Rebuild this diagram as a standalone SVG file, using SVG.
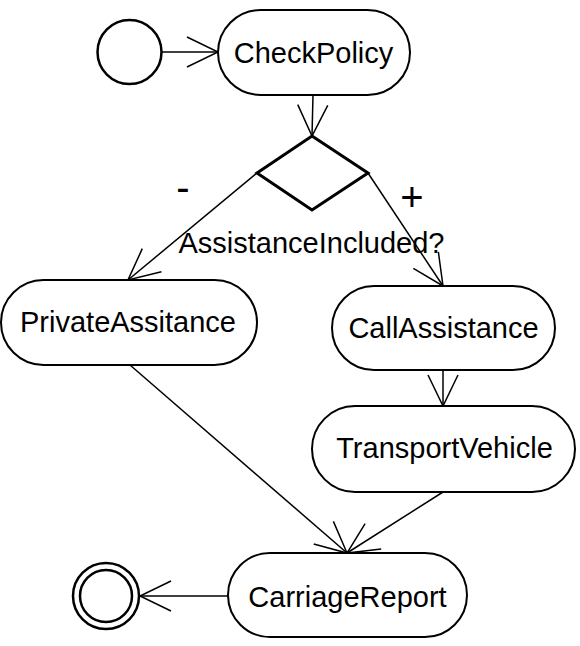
<svg xmlns="http://www.w3.org/2000/svg" width="580" height="646" viewBox="0 0 580 646">
<style>
.node{fill:#fff;stroke:#000;stroke-width:2}
.lbl{font-family:"Liberation Sans",Arial,sans-serif;font-size:29px;fill:#000;text-anchor:middle}
.sign{font-family:"Liberation Sans",Arial,sans-serif;font-size:40px;fill:#000;text-anchor:middle}
.edge{fill:none;stroke:#000;stroke-width:1.5;marker-end:url(#arr)}
.term{fill:#fff;stroke:#000;stroke-width:2.5}
</style>
<defs>
<marker id="arr" markerUnits="userSpaceOnUse" orient="auto" overflow="visible" markerWidth="1" markerHeight="1" refX="0" refY="0">
<path d="M-31,-15 L0,0 L-31,15" fill="none" stroke="#000" stroke-width="1.5"/>
</marker>
</defs>
<rect width="580" height="646" fill="#fff"/>
<g id="connectors">
<line class="edge" x1="161.5" y1="52" x2="218" y2="52"/>
<line class="edge" x1="313" y1="95" x2="312" y2="136"/>
<line class="edge" x1="257" y1="173" x2="128" y2="280"/>
<line class="edge" x1="368" y1="173" x2="443" y2="286"/>
<line class="edge" x1="443" y1="370" x2="443" y2="406"/>
<line class="edge" x1="130" y1="365" x2="347" y2="553"/>
<line class="edge" x1="443" y1="492" x2="347" y2="553"/>
<line class="edge" x1="228" y1="596" x2="140" y2="596"/>
</g>
<g id="start">
<circle class="term" cx="129.5" cy="52" r="32"/>
</g>
<g id="CheckPolicy">
<rect class="node" x="218" y="10" width="192" height="85" rx="42.5"/>
<text class="lbl" x="313.5" y="63">CheckPolicy</text>
</g>
<g id="decision">
<polygon points="312,136 368,173 312,210 257,173" fill="#fff" stroke="#000" stroke-width="3"/>
<text class="lbl" x="311.5" y="253">AssistanceIncluded?</text>
<text class="sign" x="183" y="201">-</text>
<text class="sign" x="412" y="211">+</text>
</g>
<g id="PrivateAssitance">
<rect class="node" x="1" y="280" width="256" height="85" rx="42.5"/>
<text class="lbl" x="128" y="332">PrivateAssitance</text>
</g>
<g id="CallAssistance">
<rect class="node" x="332" y="286" width="223" height="84" rx="42"/>
<text class="lbl" x="443.5" y="338">CallAssistance</text>
</g>
<g id="TransportVehicle">
<rect class="node" x="312" y="406" width="263" height="86" rx="43"/>
<text class="lbl" x="444.5" y="458">TransportVehicle</text>
</g>
<g id="CarriageReport">
<rect class="node" x="228" y="553" width="239" height="84" rx="42"/>
<text class="lbl" x="347.5" y="607">CarriageReport</text>
</g>
<g id="end">
<circle class="term" cx="106" cy="596" r="33"/>
<circle class="term" cx="106" cy="596" r="26"/>
</g>
</svg>
